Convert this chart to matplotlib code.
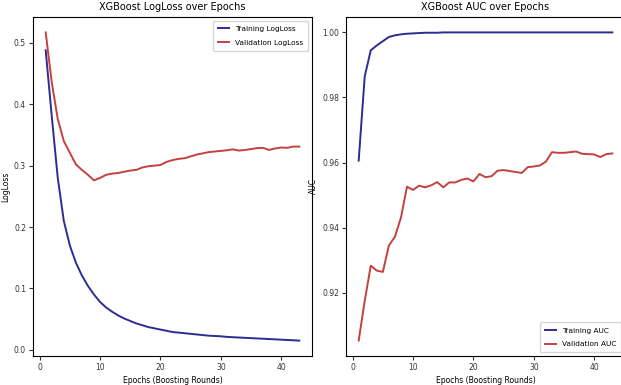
import matplotlib
matplotlib.use('Agg')
import matplotlib.pyplot as plt
import numpy as np

#########
epochs = list(range(1, 44))

train_logloss = [0.488, 0.381, 0.280, 0.210, 0.170, 0.142, 0.121, 0.104, 0.090, 0.078,
                 0.069, 0.062, 0.056, 0.051, 0.047, 0.043, 0.040, 0.037, 0.035, 0.033,
                 0.031, 0.029, 0.028, 0.027, 0.026, 0.025, 0.024, 0.023, 0.0225, 0.022,
                 0.021, 0.0205, 0.020, 0.0195, 0.019, 0.0185, 0.018, 0.0175, 0.017, 0.0165,
                 0.016, 0.0155, 0.015]
valid_logloss = [0.517, 0.436, 0.376, 0.340, 0.321, 0.302, 0.293, 0.285, 0.276, 0.280,
                 0.285, 0.287, 0.288, 0.290, 0.292, 0.293, 0.297, 0.299, 0.300, 0.301,
                 0.306, 0.309, 0.311, 0.312, 0.315, 0.318, 0.320, 0.322, 0.323, 0.324,
                 0.325, 0.3265, 0.3245, 0.3255, 0.327, 0.3285, 0.329, 0.3255, 0.328, 0.3295,
                 0.329, 0.331, 0.331]

train_auc = [0.9606, 0.9865, 0.9945, 0.9960, 0.9973, 0.9986, 0.9991, 0.9994, 0.9996, 0.9997,
             0.9998, 0.9999, 0.9999, 0.9999, 1.0, 1.0, 1.0, 1.0, 1.0, 1.0,
             1.0, 1.0, 1.0, 1.0, 1.0, 1.0, 1.0, 1.0, 1.0, 1.0,
             1.0, 1.0, 1.0, 1.0, 1.0, 1.0, 1.0, 1.0, 1.0, 1.0,
             1.0, 1.0, 1.0]
valid_auc = [0.9053, 0.9175, 0.9283, 0.9268, 0.9264, 0.9345, 0.9372, 0.9431, 0.9526, 0.9516,
             0.9529, 0.9524, 0.9530, 0.9540, 0.9524, 0.9539, 0.9539, 0.9547, 0.9551, 0.9542,
             0.9565, 0.9555, 0.9558, 0.9575, 0.9577, 0.9574, 0.9571, 0.9568, 0.9586, 0.9588,
             0.9591, 0.9603, 0.9632, 0.9630, 0.9630, 0.9632, 0.9634, 0.9627, 0.9626, 0.9625,
             0.9617, 0.9626, 0.9628]

blue = '#2c2c92'
red = '#c4413f'

W, H = 621, 385
fig = plt.figure(figsize=(W / 100, H / 100), dpi=100)

# right panel runs a bit past the edge, as in the cropped original
ax1 = fig.add_axes([33 / W, 1 - 356 / H, 279 / W, 339 / H])
ax2 = fig.add_axes([346 / W, 1 - 356 / H, 279 / W, 339 / H])

leg_kw = dict(fontsize=5.3, labelspacing=1.0, handlelength=1.5, borderpad=0.7)

ax1.plot(epochs, train_logloss, color=blue, lw=1.4, label='Training LogLoss')
ax1.plot(epochs, valid_logloss, color=red, lw=1.4, label='Validation LogLoss')
ax1.set_title('XGBoost LogLoss over Epochs', fontsize=7, pad=5)
ax1.set_xlabel('Epochs (Boosting Rounds)', fontsize=5.5, labelpad=3)
ax1.set_ylabel('LogLoss', fontsize=5.5, labelpad=3)
ax1.set_yticks([0.0, 0.1, 0.2, 0.3, 0.4, 0.5])
ax1.legend(loc='upper right', **leg_kw)

ax2.plot(epochs, train_auc, color=blue, lw=1.4, label='Training AUC')
ax2.plot(epochs, valid_auc, color=red, lw=1.4, label='Validation AUC')
ax2.set_title('XGBoost AUC over Epochs', fontsize=7, pad=5)
ax2.set_xlabel('Epochs (Boosting Rounds)', fontsize=5.5, labelpad=3)
ax2.set_ylabel('AUC', fontsize=5.5, labelpad=3)
ax2.set_yticks([0.92, 0.94, 0.96, 0.98, 1.00])
ax2.legend(loc='lower right', **leg_kw)

for ax in (ax1, ax2):
    ax.set_xticks([0, 10, 20, 30, 40])
    ax.tick_params(labelsize=5.5, length=3, pad=2, colors='#333333')

fig.savefig('out.png', dpi=100)
